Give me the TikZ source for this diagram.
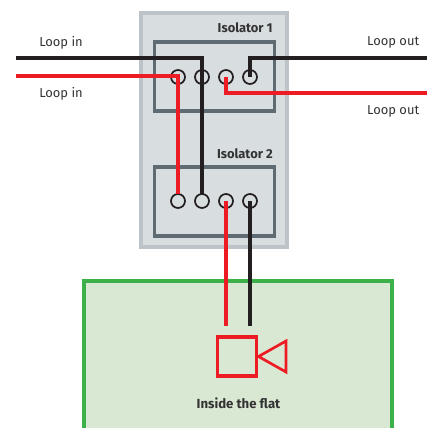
\documentclass[tikz,border=0pt]{standalone}
\usepackage{fontspec}
\setmainfont{Fira Sans}
\usetikzlibrary{positioning}
\definecolor{PanelFill}{HTML}{D8DDE0}
\definecolor{PanelEdge}{HTML}{BCC4C9}
\definecolor{BoxEdge}{HTML}{5F6B73}
\definecolor{FlatFill}{HTML}{D9E8D2}
\definecolor{FlatEdge}{HTML}{3CB14A}
\definecolor{WireRed}{HTML}{ED1C24}
\definecolor{WireBlack}{HTML}{231F20}
\begin{document}
\begin{tikzpicture}[x=0.75pt, y=-0.75pt, node distance = 7.5pt,
PanelStyle/.style={draw=PanelEdge, fill=PanelFill, line width=2.4pt, minimum width=109.5pt,
                minimum height=175.5pt, outer sep=0pt},
BoxStyle/.style={draw=BoxEdge, line width=2.4pt, minimum width=90pt, minimum height=51.75pt,
                outer sep=0pt},
TermStyle/.style={circle, draw=WireBlack, line width=1.3pt, minimum size=10.5pt, inner sep=0pt,
                outer sep=0pt},
TextStyle/.style={font=\fontsize{9.7pt}{11pt}\selectfont, text=black!80, inner sep=0pt},
TitleStyle/.style={TextStyle, font=\fontsize{9.7pt}{11pt}\selectfont\bfseries, anchor=east},
BlackWire/.style={draw=WireBlack, line width=2.4pt},
RedWire/.style={draw=WireRed, line width=2.3pt},
CamStyle/.style={draw=WireRed, line width=2.7pt, minimum width=29pt, minimum height=29pt,
                outer sep=0pt},
]
\useasboundingbox (0,0) rectangle (427,428);
% flat
\fill [FlatFill] (84,428) rectangle (392,281);
\draw [FlatEdge, line width=2.4pt] (84,428) |- (392,281) -- (392,428);
% panel and isolators
\node [PanelStyle] (panel) at (214,130) {};
\node [BoxStyle] (iso1) at (214.5,76.5) {};
\node [BoxStyle] (iso2) at (214.5,201.5) {};
\node [TitleStyle] (name1) at (273,27.5) {Isolator 1};
\node [TitleStyle] (name2) at (273,153.5) {Isolator 2};
% terminals
\node [TermStyle] (t11) at (178,77) {};
\node [TermStyle, right=of t11] (t12) {};
\node [TermStyle, right=of t12] (t13) {};
\node [TermStyle, right=of t13] (t14) {};
\node [TermStyle] (t21) at (178,201) {};
\node [TermStyle, right=of t21] (t22) {};
\node [TermStyle, right=of t22] (t23) {};
\node [TermStyle, right=of t23] (t24) {};
% free ends
\coordinate (inB) at (16,58);
\coordinate (inR) at (16,76);
\coordinate (outB) at (427,58);
\coordinate (outR) at (427,93);
\coordinate (camB) at (250,326);
\coordinate (camR) at (226,326);
% wires
\draw [BlackWire] (inB) -| (t22.north);
\draw [RedWire] (inR) -| (t21.north);
\draw [BlackWire] (outB) -| (t14.center);
\draw [RedWire] (outR) -| (t13.center);
\draw [RedWire] (t23.center) -- (camR);
\draw [BlackWire] (t24.center) -- (camB);
% camera
\node [CamStyle] (cam) at (237,356.5) {};
\coordinate (lensA) at (286,341);
\coordinate (lensB) at (286,372);
\coordinate (lensC) at (258.5,356.5);
\draw [WireRed, line width=2pt] (lensC) -- (lensA) -- (lensB) -- cycle;
% labels
\node [TextStyle, anchor=west] (lin1) at (39,42.5) {Loop in};
\node [TextStyle, anchor=west] (lin2) at (39,93.5) {Loop in};
\node [TextStyle, anchor=east] (lout1) at (419.5,42.5) {Loop out};
\node [TextStyle, anchor=east] (lout2) at (419.5,111) {Loop out};
\node [TextStyle, font=\fontsize{9.9pt}{11pt}\selectfont\bfseries] (flat) at (238.5,403.5) {Inside the flat};
\end{tikzpicture}
\end{document}
